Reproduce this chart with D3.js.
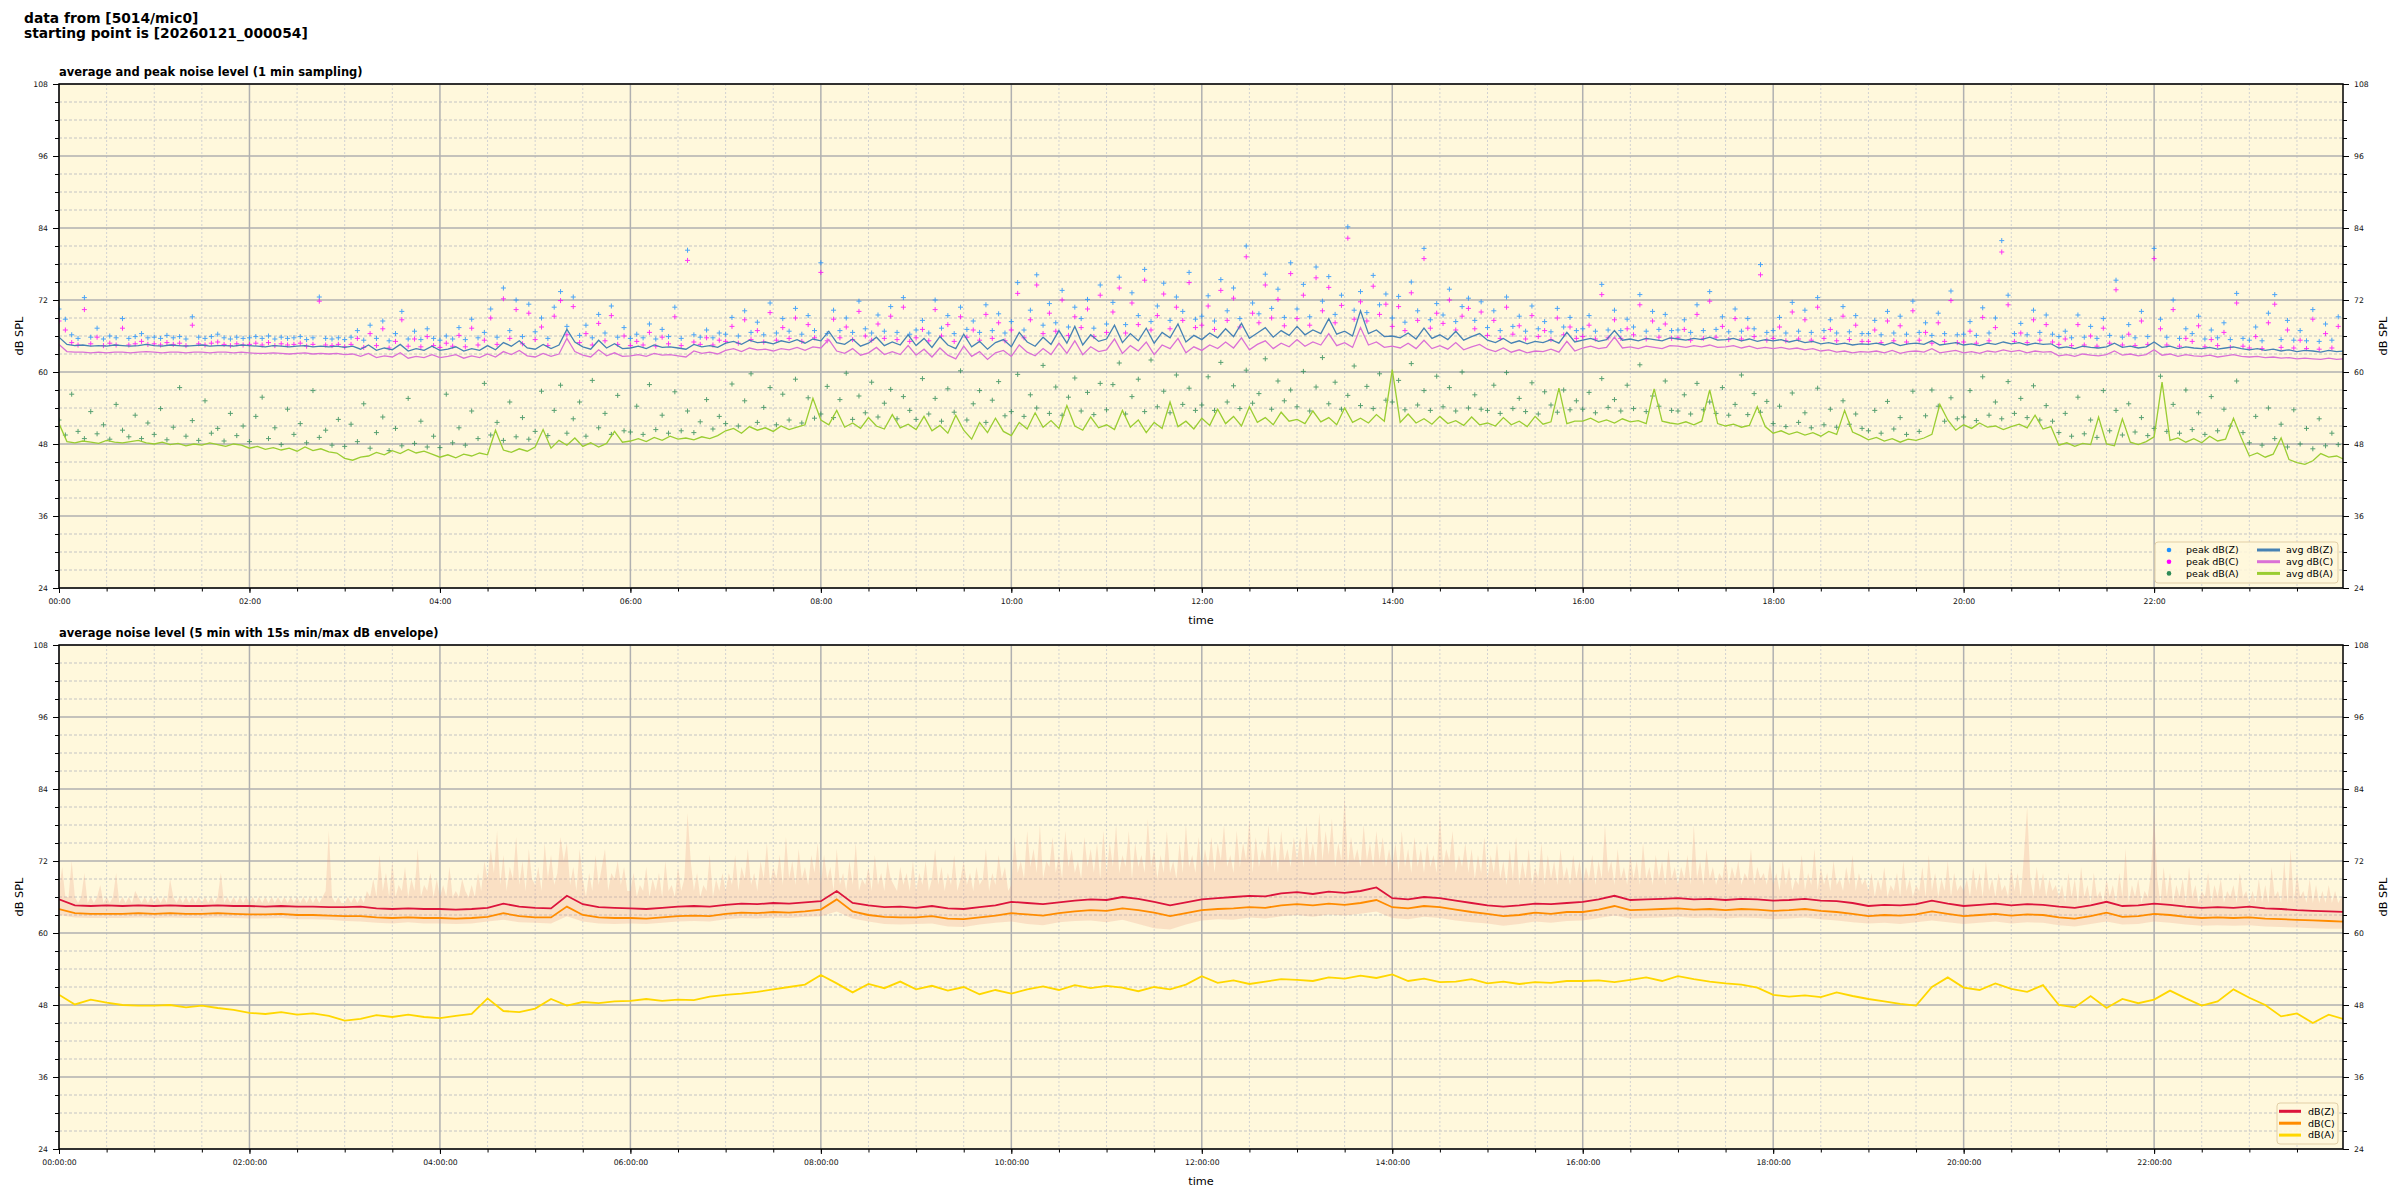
<!DOCTYPE html>
<html>
<head>
<meta charset="utf-8">
<script src="https://cdnjs.cloudflare.com/ajax/libs/d3/7.8.5/d3.min.js"></script>
<style>
  body { margin: 0; background: #fff; }
  svg text { font-family: "DejaVu Sans", sans-serif; }
</style>
</head>
<body>
<div id="chart"></div>
<script>
// ---- text ----
var suptitleLines = ["data from [5014/mic0]", "starting point is [20260121_000054]"];
var panelTitles = ["average and peak noise level (1 min sampling)",
                   "average noise level (5 min with 15s min/max dB envelope)"];
var yTicks = [24, 36, 48, 60, 72, 84, 96, 108];
var yMinorTicks = [27, 30, 33, 39, 42, 45, 51, 54, 57, 63, 66, 69, 75, 78, 81, 87, 90, 93, 99, 102, 105];
var topLegend = ["peak dB(Z)", "peak dB(C)", "peak dB(A)", "avg dB(Z)", "avg dB(C)", "avg dB(A)"];
var bottomLegend = ["dB(Z)", "dB(C)", "dB(A)"];

// ---- top panel, averages every 5 min (one row per hour) ----
var avgStep = 5;
var avgZ = [
  65.8,64.6,64.4,64.5,64.3,64.4,64.3,64.5,64.4,64.3,64.4,64.6,
  64.4,64.3,64.5,64.4,64.3,64.4,64.5,64.3,64.4,64.4,64.3,64.5,
  64.4,64.3,64.2,64.4,64.3,64.2,64.3,64.4,64.2,64.3,64.2,64.3,
  64.1,64.3,63.8,64.5,63.6,64.0,63.7,64.6,63.5,63.9,63.6,64.3,
  63.6,63.8,64.2,63.5,63.9,63.6,64.4,63.7,64.9,64.3,65.2,64.0,
  63.8,64.6,63.9,64.5,67.1,65.0,64.2,63.8,65.3,64.0,64.7,63.9,
  64.0,64.3,63.9,64.5,64.1,64.2,64.0,63.8,64.6,64.2,64.4,64.1,
  64.8,65.1,64.6,65.3,64.9,65.0,64.7,65.2,64.9,65.4,64.8,65.5,
  65.2,66.8,64.9,64.6,65.5,64.3,64.8,65.8,64.4,65.0,64.5,66.2,
  64.4,65.6,64.1,65.9,64.5,63.9,66.3,64.2,65.1,63.8,64.9,65.4,
  64.2,66.6,65.0,64.3,65.8,64.6,66.9,64.8,67.6,64.5,66.2,65.1,
  65.5,67.8,64.9,66.4,65.2,67.3,64.8,66.6,65.7,68.0,65.0,66.1,
  65.4,66.5,65.7,67.2,65.9,68.1,65.6,66.5,67.4,65.8,66.9,66.1,
  67.6,66.2,67.0,66.4,68.9,66.3,66.8,66.0,70.2,66.4,67.0,65.9,
  66.0,65.7,66.5,65.5,67.3,65.6,66.2,65.4,66.8,65.3,65.9,66.4,
  65.3,64.9,65.6,64.8,65.2,64.7,65.1,64.9,65.4,64.8,66.6,65.0,
  65.3,65.6,65.1,65.4,66.9,65.3,65.5,65.2,65.6,65.4,65.2,65.7,
  65.5,65.3,65.6,65.4,65.8,65.3,65.4,65.6,65.2,65.5,65.1,65.4,
  65.2,65.4,65.0,65.3,64.9,65.1,64.7,64.9,64.6,64.8,64.5,64.7,
  64.6,64.8,64.5,64.9,64.4,64.7,64.8,64.6,65.2,64.5,64.7,64.9,
  64.5,64.7,64.4,64.8,64.6,65.0,64.7,64.9,64.5,64.8,64.6,64.7,
  64.0,64.2,63.9,64.3,64.1,64.0,64.2,64.8,64.1,64.3,64.0,64.2,
  65.0,64.1,64.3,63.9,64.2,64.0,63.9,64.1,63.8,64.0,64.2,63.9,
  63.7,63.9,63.6,63.8,63.5,63.7,63.4,63.6,63.5,63.3,63.6,63.4,
  63.5];
var avgC = [
  64.6,63.4,63.3,63.3,63.2,63.3,63.2,63.3,63.3,63.2,63.3,63.4,
  63.3,63.2,63.3,63.3,63.2,63.3,63.3,63.2,63.3,63.3,63.2,63.3,
  63.2,63.1,63.1,63.2,63.1,63.0,63.1,63.2,63.0,63.1,63.0,63.1,
  62.9,63.0,62.6,63.1,62.4,62.7,62.5,63.2,62.3,62.6,62.4,62.9,
  62.4,62.6,62.9,62.3,62.7,62.4,63.0,62.5,63.4,62.9,63.6,62.7,
  62.5,63.1,62.6,63.0,65.6,63.4,62.8,62.5,63.7,62.7,63.2,62.6,
  62.7,62.9,62.6,63.1,62.8,62.9,62.7,62.5,63.5,63.1,63.3,63.0,
  63.6,63.9,63.4,64.0,63.7,63.8,63.5,63.9,63.7,64.1,63.6,64.2,
  64.0,65.4,63.5,63.1,63.9,62.8,63.2,64.1,62.9,63.4,62.9,64.4,
  62.8,63.8,62.5,64.0,62.8,62.2,64.3,62.6,63.4,62.1,63.2,63.6,
  62.6,64.5,63.3,62.7,63.9,62.9,64.8,63.1,65.2,62.9,64.2,63.4,
  63.7,65.5,63.1,64.4,63.5,65.0,62.9,64.5,63.9,65.6,63.2,64.2,
  63.6,64.5,63.9,65.0,64.0,65.7,63.7,64.6,65.2,63.9,64.8,64.2,
  65.4,64.3,65.0,64.5,66.4,64.4,64.9,64.1,67.4,64.5,65.0,64.1,
  64.3,64.0,64.8,63.9,65.3,63.9,64.4,63.8,64.9,63.7,64.2,64.6,
  63.8,63.4,64.0,63.3,63.7,63.2,63.5,63.4,63.8,63.3,65.1,63.5,
  64.0,64.3,63.9,64.1,65.8,64.0,64.2,63.9,64.3,64.1,63.9,64.4,
  64.3,64.1,64.4,64.2,64.5,64.1,64.2,64.4,64.0,64.3,63.9,64.1,
  63.9,64.1,63.8,64.0,63.7,63.9,63.5,63.7,63.3,63.5,63.2,63.4,
  63.3,63.5,63.2,63.6,63.1,63.4,63.5,63.3,63.9,63.2,63.4,63.6,
  63.2,63.4,63.1,63.5,63.3,63.7,63.4,63.6,63.2,63.5,63.3,63.4,
  62.7,62.9,62.6,63.0,62.8,62.7,62.9,63.5,62.8,63.0,62.7,62.9,
  63.7,62.8,63.0,62.6,62.9,62.7,62.6,62.8,62.5,62.7,62.9,62.6,
  62.5,62.6,62.4,62.5,62.3,62.4,62.2,62.3,62.2,62.1,62.3,62.1,
  62.2];
var avgA = [
  51.4,48.4,48.2,48.5,48.3,48.1,48.6,48.3,48.2,48.4,48.6,48.2,
  48.0,48.3,47.9,48.1,47.7,48.0,47.8,48.2,47.9,47.6,48.0,47.8,
  47.3,47.6,47.1,47.4,47.0,47.3,46.8,47.5,46.9,47.2,46.7,46.5,
  45.6,45.3,45.8,46.0,46.6,46.2,46.9,46.4,47.1,46.5,46.8,46.3,
  45.8,46.2,45.7,46.3,46.0,46.5,46.2,50.3,47.0,46.6,47.2,46.8,
  47.5,50.4,47.3,48.6,47.8,49.0,47.6,48.2,47.5,48.1,50.1,48.3,
  48.5,48.9,48.4,49.1,48.6,49.3,48.8,49.0,48.7,49.2,48.9,49.4,
  50.2,50.6,49.8,50.9,50.3,50.7,50.1,51.0,50.4,50.8,51.2,55.6,
  52.0,51.2,53.6,50.8,51.5,50.6,52.4,51.0,50.5,52.9,50.7,51.3,
  50.4,52.6,50.2,51.1,49.8,52.8,50.3,48.8,51.6,49.9,52.3,50.1,
  49.4,51.6,50.5,53.2,50.8,51.9,50.6,54.4,51.0,50.3,52.5,50.7,
  51.2,50.4,53.6,50.8,52.0,49.9,51.6,50.6,55.0,50.9,51.8,50.5,
  52.3,51.1,53.8,51.4,52.6,51.0,54.2,51.6,52.4,51.2,53.3,51.8,
  52.1,51.4,53.5,51.7,52.4,51.2,54.0,51.6,52.3,51.5,52.9,51.8,
  60.4,51.6,53.0,51.5,52.2,51.3,52.6,51.4,51.9,51.1,52.5,51.2,
  51.5,51.0,52.4,51.2,51.8,50.9,52.6,51.3,51.7,57.3,51.4,51.8,
  51.8,52.3,51.6,52.0,51.5,52.2,51.7,51.9,51.4,57.2,51.8,51.5,
  51.3,51.7,51.2,51.8,57.0,51.4,51.0,51.3,50.8,51.1,54.2,50.9,
  49.8,50.2,49.6,50.0,49.5,49.9,49.3,50.1,49.6,53.6,50.0,49.4,
  48.7,49.1,48.5,48.9,48.3,48.8,48.6,49.0,49.6,54.6,52.0,50.3,
  51.2,50.6,51.5,50.8,51.0,50.4,50.9,51.3,50.7,52.8,50.5,50.9,
  47.8,48.2,47.6,48.1,47.9,52.5,48.0,47.7,52.2,48.3,47.9,48.4,
  49.2,58.3,48.6,49.0,48.3,48.9,48.2,49.3,48.5,48.8,52.3,49.0,
  46.0,46.5,45.8,46.3,49.0,45.4,44.9,44.6,45.2,46.4,45.8,46.0,
  45.4];

// ---- top panel, peaks every 4 min (one row per hour) ----
var peakStep = 4;
var peakZ = [
  70.5,68.8,66.2,65.6,72.4,65.8,67.3,65.5,66.0,65.7,68.9,65.6,65.9,66.4,65.7,
  65.8,65.6,66.1,65.7,65.9,65.5,69.2,65.8,65.6,65.9,66.3,65.7,65.5,65.8,65.6,
  65.7,65.9,65.6,66.0,65.5,65.8,65.6,65.7,65.9,65.4,65.7,72.5,65.6,65.5,65.7,
  65.4,65.8,66.9,65.3,67.8,65.6,68.5,65.2,66.4,70.1,65.5,66.8,65.4,67.2,65.6,
  65.3,66.0,65.5,67.4,65.4,68.8,65.7,66.6,70.5,65.8,74.0,66.9,72.0,65.9,71.3,
  66.7,69.0,65.6,70.8,73.4,67.6,72.5,66.1,67.8,65.7,69.6,66.5,71.0,65.8,67.4,
  65.6,66.3,65.7,68.0,65.5,67.1,65.9,70.8,65.6,80.3,66.2,65.8,67.0,65.7,66.5,
  66.3,69.1,66.0,70.2,66.6,68.3,66.2,71.5,66.5,68.9,66.8,70.6,66.3,69.4,66.9,
  78.2,66.4,70.3,66.9,69.0,66.6,71.8,67.2,66.5,69.5,66.8,70.9,66.6,72.4,66.3,
  67.0,68.6,66.5,72.0,67.3,69.4,66.4,70.8,67.1,68.5,66.6,71.2,66.9,69.7,66.5,
  68.4,74.9,67.0,70.3,76.2,67.8,71.4,68.2,73.6,67.5,70.8,68.9,72.1,67.3,74.5,
  68.0,71.6,75.8,67.9,73.2,69.4,77.1,68.4,71.0,74.8,68.6,72.5,70.1,76.6,68.8,
  69.3,72.7,68.5,75.4,70.2,74.0,68.9,81.0,71.5,69.7,76.3,70.6,73.8,69.1,78.2,
  70.5,74.6,69.2,77.5,71.8,75.9,69.6,72.8,84.2,70.3,73.4,69.9,76.1,71.2,73.0,
  69.0,72.6,68.3,75.0,70.2,80.6,68.7,71.4,69.5,73.8,68.4,70.9,72.3,68.6,71.7,
  67.4,70.2,66.9,72.5,67.6,69.3,66.8,71.0,67.2,68.4,66.7,70.6,67.5,69.1,66.9,
  67.2,69.4,66.8,74.6,67.0,70.3,66.9,68.8,67.5,72.9,66.8,70.1,67.1,69.6,66.9,
  67.0,68.7,66.6,71.2,66.9,73.4,67.1,69.2,66.7,70.5,66.8,68.9,67.2,77.9,66.6,
  66.9,69.1,66.5,71.6,66.8,70.3,66.6,72.4,66.9,68.7,66.5,70.9,66.7,69.4,66.4,
  66.4,68.6,66.2,70.1,66.5,69.3,66.3,71.8,66.6,68.2,66.1,69.8,66.4,73.5,66.2,
  66.3,68.4,66.1,70.7,66.5,69.0,81.9,72.8,66.4,68.1,66.2,70.3,66.6,69.5,66.3,
  65.9,66.8,65.7,69.5,65.8,67.6,65.6,68.9,66.1,75.3,65.8,67.9,65.7,70.1,65.9,
  80.6,68.8,65.8,72.0,65.6,67.2,66.4,69.3,65.5,67.0,65.7,68.2,65.4,73.1,65.6,
  65.3,67.5,65.2,69.8,72.9,65.4,68.6,65.3,66.9,65.2,70.4,65.1,68.0,65.3,69.2];
var peakC = [
  68.5,67.0,64.9,64.5,70.4,64.7,65.8,64.4,64.8,64.5,67.3,64.5,64.7,65.1,64.6,
  64.7,64.5,64.9,64.6,64.8,64.4,67.8,64.7,64.5,64.8,65.0,64.6,64.4,64.7,64.5,
  64.6,64.8,64.5,64.9,64.4,64.7,64.5,64.6,64.8,64.3,64.6,71.8,64.5,64.4,64.6,
  64.2,64.6,65.6,64.1,66.4,64.4,67.2,64.0,65.1,68.7,64.3,65.5,64.2,65.9,64.4,
  64.1,64.8,64.3,66.1,64.2,67.3,64.5,65.3,69.0,64.6,72.2,65.6,70.4,64.7,69.8,
  65.4,67.5,64.4,69.3,71.9,66.2,70.9,64.9,66.4,64.5,68.1,65.2,69.4,64.6,66.0,
  64.4,65.1,64.5,66.6,64.3,65.8,64.7,69.2,64.4,78.6,65.0,64.6,65.7,64.5,65.3,
  65.1,67.6,64.8,68.7,65.4,66.9,65.0,69.9,65.3,67.4,65.6,69.0,65.1,67.9,65.7,
  76.6,65.2,68.8,65.7,67.5,65.4,70.1,66.0,65.3,68.0,65.6,69.3,65.4,70.8,65.1,
  65.7,67.1,65.2,70.4,66.0,67.9,65.1,69.2,65.8,67.0,65.3,69.6,65.6,68.2,65.2,
  67.0,73.1,65.7,68.7,74.5,66.4,69.8,66.8,72.0,66.1,69.2,67.4,70.5,65.9,72.8,
  66.6,70.0,74.0,66.5,71.5,67.9,75.3,67.0,69.4,73.0,67.2,70.8,68.6,74.9,67.4,
  67.8,71.0,67.1,73.6,68.6,72.3,67.5,79.2,69.8,68.2,74.5,69.0,72.1,67.7,76.4,
  68.9,72.8,67.8,75.7,70.2,74.1,68.2,71.1,82.3,68.8,71.7,68.5,74.3,69.6,71.3,
  67.6,70.9,66.9,73.2,68.6,78.9,67.3,69.8,68.1,72.0,67.0,69.3,70.6,67.2,70.0,
  66.1,68.6,65.6,70.8,66.3,67.7,65.5,69.4,65.9,66.9,65.4,69.0,66.2,67.5,65.6,
  65.9,67.8,65.5,72.9,65.7,68.7,65.6,67.2,66.2,71.2,65.5,68.5,65.8,68.0,65.6,
  65.7,67.1,65.3,69.6,65.6,71.8,65.8,67.6,65.4,68.9,65.5,67.3,65.9,76.2,65.3,
  65.6,67.5,65.2,70.0,65.5,68.7,65.3,70.8,65.6,67.1,65.2,69.3,65.4,67.8,65.1,
  65.1,67.0,64.9,68.5,65.2,67.7,65.0,70.2,65.3,66.6,64.8,68.2,65.1,71.9,64.9,
  65.0,66.8,64.8,69.1,65.2,67.4,80.0,71.2,65.1,66.5,64.9,68.7,65.3,67.9,65.0,
  64.6,65.5,64.4,67.9,64.5,66.0,64.3,67.3,64.8,73.7,64.5,66.3,64.4,68.5,64.6,
  78.9,67.2,64.5,70.4,64.3,65.6,65.1,67.7,64.2,65.4,64.4,66.6,64.1,71.5,64.3,
  64.0,65.9,63.9,68.2,71.3,64.1,67.0,64.0,65.3,63.9,68.8,63.8,66.4,64.0,67.6];
var peakA = [
  52.0,49.5,56.3,50.1,48.9,53.4,49.7,51.2,48.8,54.6,50.3,49.2,52.8,48.9,51.5,
  49.6,53.9,48.7,50.8,57.4,49.3,51.9,48.6,55.2,49.8,50.6,48.5,53.1,49.4,51.0,
  48.4,52.6,55.8,48.9,50.7,47.9,53.8,49.6,51.4,48.2,56.9,49.1,50.3,47.8,52.1,
  47.6,51.3,48.4,54.7,47.3,49.9,52.5,46.9,50.6,47.7,55.6,48.1,51.8,47.5,49.3,
  47.4,56.3,48.2,50.7,47.8,53.5,48.9,58.1,49.5,51.6,48.6,55.0,49.2,52.4,48.8,
  50.1,56.8,49.4,53.6,57.8,49.8,52.2,55.0,49.3,58.6,50.7,53.1,49.6,56.1,50.2,
  50.0,54.3,49.6,57.9,50.4,52.8,49.8,56.7,50.2,53.5,49.9,51.7,55.4,50.5,52.6,
  51.4,58.0,51.0,55.2,59.7,51.6,54.1,57.4,51.2,56.3,52.0,58.8,51.5,55.7,52.3,
  53.0,57.6,52.4,55.4,59.8,52.1,56.0,53.2,58.3,52.5,54.8,57.1,52.2,55.9,53.6,
  52.1,58.9,53.0,55.6,51.8,57.2,53.3,60.2,52.0,54.7,56.9,51.6,55.3,58.4,52.7,
  53.4,59.6,52.6,56.2,54.0,61.1,53.1,57.5,52.8,55.8,59.0,53.5,56.6,52.9,58.1,
  53.7,57.9,61.5,53.0,55.9,58.8,53.4,62.0,54.2,56.8,53.2,59.5,54.6,57.3,53.6,
  54.5,59.2,53.6,61.6,55.0,57.7,53.9,60.3,54.8,56.4,62.2,53.8,58.5,55.2,57.0,
  54.2,60.1,53.5,57.5,62.4,54.7,58.3,53.8,56.1,61.0,54.4,57.6,53.9,59.7,55.3,
  55.0,58.6,53.7,61.4,54.5,56.9,53.6,59.3,54.2,57.4,53.5,60.0,54.0,56.2,53.8,
  53.6,57.8,53.1,59.9,53.9,55.6,53.4,58.2,53.0,56.7,54.5,53.3,57.0,53.7,55.2,
  53.8,56.6,53.2,58.9,54.1,55.4,53.5,57.8,53.9,61.2,53.4,56.0,54.3,58.5,53.6,
  53.5,56.2,53.0,58.1,53.7,55.0,53.1,57.4,52.8,54.6,59.5,52.9,56.4,53.3,55.1,
  51.4,54.3,50.9,56.5,51.6,53.2,50.7,57.3,51.2,53.8,50.8,55.2,51.3,53.0,50.6,
  50.2,53.6,49.8,55.1,50.5,52.4,49.6,56.8,50.1,52.7,57.0,54.3,51.8,55.7,52.2,
  52.5,56.9,51.9,59.2,52.8,55.0,52.2,58.4,53.1,55.6,52.4,57.7,52.0,54.4,51.8,
  49.9,53.1,49.3,55.8,49.7,52.0,49.1,56.9,50.2,53.6,49.5,54.7,50.0,52.4,49.4,
  50.6,59.3,50.1,54.6,49.8,57.0,50.4,53.2,49.6,55.9,50.2,53.8,51.0,58.5,49.9,
  48.2,52.6,47.8,54.0,48.9,51.3,47.5,53.7,48.0,50.6,47.2,52.2,47.7,49.8,47.9];

// ---- bottom panel, 5 min averages read every 10 min ----
var lvlStep = 10;
var lvlZ = [
  65.6,64.6,64.5,64.6,64.5,64.6, 64.5,64.6,64.5,64.5,64.6,64.5,
  64.5,64.4,64.5,64.4,64.4,64.3, 64.3,64.4,64.1,64.0,64.1,64.0,
  64.0,63.9,64.0,64.2,64.9,64.4, 64.2,64.1,66.2,64.8,64.3,64.2,
  64.1,64.0,64.2,64.4,64.5,64.4, 64.7,64.9,64.8,65.0,64.9,65.1,
  65.3,67.0,65.0,64.6,64.3,64.4, 64.2,64.5,64.1,64.0,64.3,64.6,
  65.2,65.0,64.8,65.1,65.4,65.6, 65.5,66.0,65.7,65.2,64.6,65.1,
  65.6,65.8,66.0,66.2,66.1,66.6, 66.8,66.5,66.9,66.7,67.0,67.6,
  65.8,65.6,66.0,65.8,65.4,65.0, 64.6,64.4,64.6,64.9,64.8,65.0,
  65.2,65.6,66.2,65.5,65.6,65.7, 65.8,65.6,65.7,65.5,65.7,65.6,
  65.4,65.5,65.7,65.4,65.3,65.0, 64.5,64.7,64.6,64.8,65.4,64.9,
  64.5,64.7,64.9,64.6,64.8,64.7, 64.4,64.2,64.6,65.2,64.5,64.6,
  64.9,64.7,64.4,64.2,64.3,64.2, 64.4,64.1,64.0,63.8,63.7,63.6,
  63.5];
var lvlC = [
  64.0,63.3,63.2,63.2,63.2,63.3, 63.2,63.3,63.2,63.2,63.3,63.2,
  63.1,63.1,63.2,63.0,63.0,62.9, 62.8,62.8,62.6,62.5,62.6,62.5,
  62.5,62.4,62.5,62.7,63.3,62.8, 62.6,62.6,64.4,63.0,62.6,62.5,
  62.5,62.4,62.6,62.8,62.9,62.8, 63.2,63.4,63.3,63.5,63.4,63.6,
  63.9,65.6,63.6,63.0,62.7,62.6, 62.6,62.8,62.4,62.3,62.6,62.9,
  63.3,63.1,62.9,63.3,63.6,63.8, 63.7,64.1,63.8,63.4,62.8,63.3,
  63.8,64.0,64.1,64.3,64.2,64.6, 64.8,64.6,64.9,64.7,65.0,65.5,
  64.3,64.1,64.5,64.3,63.9,63.5, 63.2,62.8,63.0,63.4,63.2,63.5,
  63.5,63.9,64.5,63.8,63.9,64.0, 64.1,63.9,64.0,63.8,64.0,63.9,
  63.7,63.8,64.0,63.7,63.5,63.2, 62.8,63.0,62.9,63.1,63.6,63.2,
  62.8,63.0,63.2,62.9,63.1,63.0, 62.6,62.4,62.8,63.4,62.7,62.8,
  63.2,63.0,62.7,62.5,62.6,62.5, 62.6,62.4,62.3,62.2,62.1,62.0,
  61.9];
var lvlA = [
  49.7,48.1,48.9,48.4,48.0,47.9, 47.9,48.0,47.6,47.9,47.5,47.2,
  46.7,46.5,46.8,46.4,46.6,46.2, 45.4,45.7,46.3,46.0,46.4,46.0,
  45.8,46.2,46.5,49.1,47.0,46.8, 47.4,49.0,47.9,48.5,48.3,48.6,
  48.7,49.0,48.7,48.9,48.8,49.4, 49.7,49.9,50.2,50.6,51.0,51.4,
  53.0,51.6,50.1,51.5,50.8,51.9, 50.6,51.2,50.4,51.0,49.8,50.5,
  49.9,50.6,51.1,50.5,51.3,50.8, 51.2,50.9,50.3,51.0,50.6,51.4,
  52.8,51.7,52.1,51.5,51.9,52.3, 52.2,52.0,52.6,52.4,52.9,52.5,
  53.1,52.0,52.4,51.8,51.9,52.3, 51.6,51.9,51.5,51.8,51.7,52.0,
  52.0,52.1,51.8,52.2,52.6,52.0, 52.8,52.3,51.9,51.6,51.4,50.9,
  49.7,49.4,49.6,49.3,50.1,49.5, 49.0,48.6,48.2,47.9,51.0,52.6,
  50.9,50.5,51.6,50.7,50.2,51.3, 48.0,47.6,49.5,47.5,49.0,48.3,
  48.9,50.4,49.1,47.9,48.6,50.6, 49.2,48.0,46.1,46.6,45.0,46.4,
  45.6];

// ---- bottom panel, 15s min/max envelope ----
var envMinStep = 10;
var envMin = [
  63.0,62.6,62.5,62.5,62.5,62.6, 62.5,62.6,62.5,62.5,62.6,62.5,
  62.4,62.4,62.5,62.3,62.3,62.2, 62.0,61.9,61.7,61.6,61.8,61.6,
  61.6,61.5,61.6,61.9,62.2,61.8, 61.7,61.6,62.8,61.9,61.6,61.5,
  61.6,61.5,61.7,61.9,62.0,61.9, 62.3,62.5,62.4,62.6,62.5,62.7,
  62.8,63.6,62.4,61.9,61.5,61.4, 61.5,61.6,61.1,61.0,61.4,61.7,
  61.9,61.5,61.3,61.8,62.0,62.1, 61.8,62.2,61.5,60.8,60.6,61.4,
  62.1,62.3,62.2,62.6,62.4,62.8, 63.0,62.7,63.1,62.9,63.2,63.6,
  62.5,62.3,62.7,62.5,62.1,61.8, 61.6,61.2,61.5,61.9,61.7,62.0,
  62.1,62.5,62.9,62.4,62.5,62.6, 62.7,62.5,62.6,62.4,62.6,62.5,
  62.3,62.4,62.6,62.3,62.1,61.8, 61.6,61.7,61.5,61.8,62.1,61.8,
  61.5,61.7,61.9,61.6,61.8,61.7, 61.3,61.1,61.5,61.9,61.4,61.5,
  61.9,61.7,61.4,61.2,61.3,61.2, 61.3,61.1,61.0,60.9,60.8,60.7,
  60.7];
var envMaxStep = 2;
var envMax = [
  67,71,66,66,72,66,65,66,70,65,66,65,66,68,65,66,65,66,70,65,66,65,66,65,67,66,65,66,65,66,
  65,66,65,66,65,69,66,65,66,65,66,65,66,65,66,65,66,65,66,65,66,70,65,66,65,66,65,66,65,66,
  65,66,65,66,65,66,65,66,65,66,65,66,65,66,65,66,65,66,65,66,65,66,65,66,67,77,66,65,66,65,
  65,66,65,66,65,66,65,67,66,69,66,73,67,70,66,72,66,68,67,71,66,69,67,74,66,68,67,70,66,69,
  66,68,66,71,66,67,66,69,67,66,68,66,70,67,72,69,74,70,77,68,73,67,71,69,76,68,72,67,74,69,
  68,71,67,75,69,73,68,70,76,72,75,68,71,67,74,69,66,70,67,73,68,71,74,67,70,69,72,68,71,67,
  67,70,66,68,67,71,66,69,67,70,66,72,67,68,66,71,67,69,80,72,67,70,66,68,67,73,66,69,67,70,
  67,70,68,73,67,71,69,74,68,70,67,72,69,75,68,71,69,73,68,76,69,72,68,74,69,71,68,73,70,75,
  68,73,69,71,67,74,68,70,67,72,68,75,67,69,68,71,67,73,68,70,67,72,69,68,67,71,68,70,67,72,
  67,70,68,72,67,69,74,68,71,67,70,68,73,67,69,72,68,70,67,71,68,69,74,67,70,68,73,69,71,67,
  68,76,70,72,69,77,71,74,70,78,69,72,71,76,70,73,69,77,71,74,70,72,69,76,71,74,70,75,69,77,
  70,75,71,78,70,73,71,77,69,75,71,73,70,79,71,74,69,73,70,77,70,72,69,75,70,78,71,73,70,76,
  70,74,71,76,70,75,72,78,71,73,70,77,71,75,72,79,70,76,71,74,72,78,71,75,70,77,72,74,71,76,
  72,76,71,78,72,75,71,80,72,77,73,79,71,75,72,83,71,76,72,74,71,78,72,75,71,77,72,76,71,74,
  71,75,70,77,71,74,70,76,71,74,70,75,71,73,70,80,71,74,72,77,70,73,71,75,70,74,69,73,70,76,
  69,73,70,75,69,72,68,74,69,76,68,72,69,74,68,71,69,75,68,73,69,72,68,74,69,71,68,73,69,72,
  68,71,69,73,68,72,69,78,70,72,68,74,69,71,68,73,69,72,68,75,69,71,68,73,69,72,68,74,69,71,
  68,71,69,73,68,78,69,72,68,74,69,71,68,70,69,73,68,71,69,72,68,70,69,74,68,71,69,70,68,72,
  68,70,67,72,68,71,67,69,68,73,67,70,68,74,67,71,68,70,67,72,68,69,67,71,68,73,67,70,68,69,
  67,70,66,69,67,71,66,68,67,70,66,72,67,69,66,68,67,71,66,73,67,70,66,69,67,72,66,70,67,68,
  67,69,66,71,67,70,66,72,67,69,66,70,67,68,66,71,67,70,66,73,81,69,66,71,67,70,66,69,67,68,
  66,68,65,70,66,69,65,71,66,68,65,70,66,67,65,69,66,68,65,70,66,74,65,68,66,69,65,67,66,70,
  80,69,65,71,66,70,65,68,66,69,65,71,66,68,65,67,66,70,65,68,66,69,65,67,66,68,65,70,66,67,
  65,67,65,69,65,68,65,71,66,67,65,72,65,74,65,70,66,67,65,69,65,68,65,67,65,68,65,67,65,66,
  65];

// ---- layout ----
var width = 2400, height = 1200;
var plotLeft = 59, plotRight = 2343, plotH = 504;
var panelTops = [84, 645];

var svg = d3.select("#chart").append("svg")
  .attr("width", width)
  .attr("height", height);

var day = new Date(2026, 0, 21, 0, 0, 0);
function atMinute(m) { return new Date(day.getTime() + m * 60000); }

var x = d3.scaleTime()
  .domain([atMinute(0), atMinute(1439)])
  .range([plotLeft, plotRight]);

// figure title
svg.selectAll(".suptitle")
  .data(suptitleLines)
  .enter().append("text")
  .attr("x", 24)
  .attr("y", function(d, i) { return 23 + i * 15; })
  .attr("font-size", "13.8px")
  .attr("font-weight", "bold")
  .text(function(d) { return d; });

function makePanel(idx, timeFmt) {
  var top = panelTops[idx];
  var y = d3.scaleLinear().domain([24, 108]).range([top + plotH, top]);
  var g = svg.append("g");

  g.append("rect")
    .attr("x", plotLeft).attr("y", top)
    .attr("width", plotRight - plotLeft).attr("height", plotH)
    .attr("fill", "#fff8dc");

  // grid
  var minorTimes = x.ticks(d3.timeMinute.every(30)).filter(function(t) {
    return t.getMinutes() !== 0 || t.getHours() % 2 !== 0;
  });
  g.selectAll(".vmin").data(minorTimes).enter().append("line")
    .attr("x1", x).attr("x2", x)
    .attr("y1", top).attr("y2", top + plotH)
    .attr("stroke", "#d2d2d2").attr("stroke-width", 1)
    .attr("stroke-dasharray", "2,2");
  g.selectAll(".hmin").data(yMinorTicks).enter().append("line")
    .attr("x1", plotLeft).attr("x2", plotRight)
    .attr("y1", y).attr("y2", y)
    .attr("stroke", "#c4c4c4").attr("stroke-width", 1)
    .attr("stroke-dasharray", "3,2");
  g.selectAll(".vmaj").data(x.ticks(d3.timeHour.every(2))).enter().append("line")
    .attr("x1", x).attr("x2", x)
    .attr("y1", top).attr("y2", top + plotH)
    .attr("stroke", "#b0b0b0").attr("stroke-width", 1.5);
  g.selectAll(".hmaj").data(yTicks).enter().append("line")
    .attr("x1", plotLeft).attr("x2", plotRight)
    .attr("y1", y).attr("y2", y)
    .attr("stroke", "#b0b0b0").attr("stroke-width", 1.5);

  // axes
  function styleAxis(sel) {
    sel.select(".domain").remove();
    sel.attr("font-family", "DejaVu Sans").attr("font-size", "7.7px");
    sel.selectAll("text").attr("fill", "#111");
  }
  g.append("g")
    .attr("transform", "translate(0," + (top + plotH) + ")")
    .call(d3.axisBottom(x).ticks(d3.timeMinute.every(30)).tickFormat("").tickSize(3.5))
    .call(styleAxis);
  g.append("g")
    .attr("transform", "translate(0," + (top + plotH) + ")")
    .call(d3.axisBottom(x).ticks(d3.timeHour.every(2)).tickFormat(d3.timeFormat(timeFmt)).tickSize(5).tickPadding(6))
    .call(styleAxis);
  [[d3.axisLeft, plotLeft], [d3.axisRight, plotRight]].forEach(function(a) {
    g.append("g")
      .attr("transform", "translate(" + a[1] + ",0)")
      .call(a[0](y).tickValues(yMinorTicks).tickFormat("").tickSize(4))
      .call(styleAxis);
    g.append("g")
      .attr("transform", "translate(" + a[1] + ",0)")
      .call(a[0](y).tickValues(yTicks).tickSize(6).tickPadding(5))
      .call(styleAxis);
  });

  // labels
  g.append("text")
    .attr("x", plotLeft).attr("y", top - 8)
    .attr("font-size", "11.5px").attr("font-weight", "bold")
    .text(panelTitles[idx]);
  g.append("text")
    .attr("x", (plotLeft + plotRight) / 2).attr("y", top + plotH + 36)
    .attr("text-anchor", "middle").attr("font-size", "11.3px")
    .text("time");
  [23, 2387].forEach(function(lx) {
    g.append("text")
      .attr("transform", "translate(" + lx + "," + (top + plotH / 2) + ") rotate(-90)")
      .attr("text-anchor", "middle").attr("font-size", "11.3px")
      .text("dB SPL");
  });

  g.append("clipPath").attr("id", "clip" + idx)
    .append("rect")
    .attr("x", plotLeft).attr("y", top)
    .attr("width", plotRight - plotLeft).attr("height", plotH);

  var data = g.append("g").attr("clip-path", "url(#clip" + idx + ")");
  g.append("rect")
    .attr("x", plotLeft).attr("y", top)
    .attr("width", plotRight - plotLeft).attr("height", plotH)
    .attr("fill", "none").attr("stroke", "#000").attr("stroke-width", 1.5);

  return { y: y, data: data, g: g };
}

function seriesLine(y, step) {
  return d3.line()
    .x(function(d, i) { return x(atMinute(i * step)); })
    .y(function(d) { return y(d); });
}

// ---- top panel ----
var p1 = makePanel(0, "%H:%M");

[[peakZ, "#1e90ff"], [peakC, "#ff00ff"], [peakA, "#2e8b57"]].forEach(function(s) {
  p1.data.append("g").selectAll("path")
    .data(s[0])
    .enter().append("path")
    .attr("d", "M-2.5,0H2.5M0,-2.5V2.5")
    .attr("transform", function(d, i) {
      return "translate(" + x(atMinute(i * peakStep)) + "," + p1.y(d) + ")";
    })
    .attr("stroke", s[1])
    .attr("stroke-width", 1)
    .attr("opacity", 0.8);
});

[[avgZ, "#4682b4"], [avgC, "#da70d6"], [avgA, "#9acd32"]].forEach(function(s) {
  p1.data.append("path")
    .datum(s[0])
    .attr("d", seriesLine(p1.y, avgStep))
    .attr("fill", "none")
    .attr("stroke", s[1])
    .attr("stroke-width", 1.3);
});

// legend, top
var lg1 = p1.g.append("g");
lg1.append("rect")
  .attr("x", 2155).attr("y", 542).attr("width", 183).attr("height", 41)
  .attr("rx", 3).attr("fill", "#fff8dc").attr("fill-opacity", 0.85)
  .attr("stroke", "#e2cfa6").attr("stroke-width", 1);
var dotColors = ["#1e90ff", "#ff00ff", "#2e8b57"];
var lineColors = ["#4682b4", "#da70d6", "#9acd32"];
topLegend.forEach(function(label, i) {
  var row = i % 3, col = Math.floor(i / 3);
  var cy = 550 + row * 11.7;
  if (col === 0) {
    lg1.append("circle").attr("cx", 2169).attr("cy", cy).attr("r", 2.3).attr("fill", dotColors[row]);
  } else {
    lg1.append("line").attr("x1", 2257).attr("x2", 2280).attr("y1", cy).attr("y2", cy)
      .attr("stroke", lineColors[row]).attr("stroke-width", 3);
  }
  lg1.append("text")
    .attr("x", col === 0 ? 2186 : 2286).attr("y", cy)
    .attr("dy", "0.35em").attr("font-size", "9.5px")
    .text(label);
});

// ---- bottom panel ----
var p2 = makePanel(1, "%H:%M:%S");

var envPts = envMax.map(function(v, i) { return [i * envMaxStep, v]; })
  .concat(envMin.map(function(v, i) { return [i * envMinStep, v]; }).reverse());
var envLine = d3.line()
  .x(function(d) { return x(atMinute(d[0])); })
  .y(function(d) { return p2.y(d[1]); });
p2.data.append("path")
  .attr("d", envLine(envPts) + "Z")
  .attr("fill", "#e9967a")
  .attr("fill-opacity", 0.24)
  .attr("stroke", "none");

[[lvlZ, "#dc143c"], [lvlC, "#ff8c00"], [lvlA, "#ffd700"]].forEach(function(s) {
  p2.data.append("path")
    .datum(s[0])
    .attr("d", seriesLine(p2.y, lvlStep))
    .attr("fill", "none")
    .attr("stroke", s[1])
    .attr("stroke-width", 1.8);
});

// legend, bottom
var lg2 = p2.g.append("g");
lg2.append("rect")
  .attr("x", 2277).attr("y", 1103).attr("width", 61).attr("height", 41)
  .attr("rx", 3).attr("fill", "#fff8dc").attr("fill-opacity", 0.85)
  .attr("stroke", "#e2cfa6").attr("stroke-width", 1);
var bottomColors = ["#dc143c", "#ff8c00", "#ffd700"];
bottomLegend.forEach(function(label, i) {
  var cy = 1111.3 + i * 11.9;
  lg2.append("line").attr("x1", 2279).attr("x2", 2301).attr("y1", cy).attr("y2", cy)
    .attr("stroke", bottomColors[i]).attr("stroke-width", 3);
  lg2.append("text")
    .attr("x", 2308).attr("y", cy)
    .attr("dy", "0.35em").attr("font-size", "9.5px")
    .text(label);
});
</script>
</body>
</html>
